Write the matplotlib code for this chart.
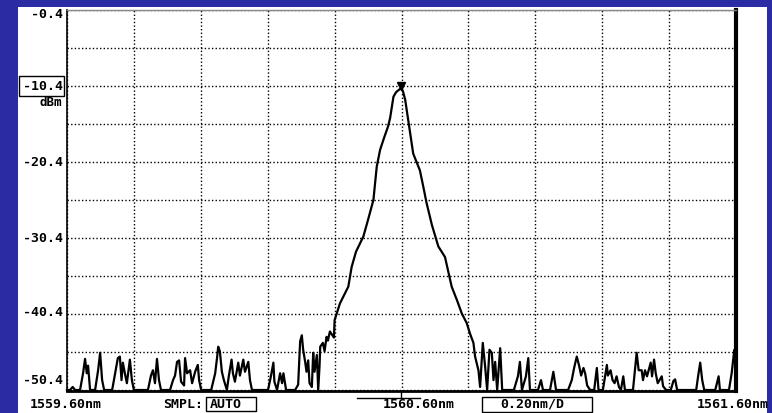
import numpy as np
import matplotlib
matplotlib.use("Agg")
import matplotlib.pyplot as plt
from matplotlib.patches import Rectangle

W, H = 772, 413
BLUE = "#2b2ba3"

# spectrum trace (nm, dBm)
wavelength = [
    1559.600, 1559.609, 1559.617, 1559.624, 1559.639, 1559.648, 1559.654, 1559.659, 1559.663, 1559.669,
    1559.684, 1559.693, 1559.699, 1559.705, 1559.711, 1559.735, 1559.744, 1559.752, 1559.758, 1559.763,
    1559.767, 1559.773, 1559.779, 1559.788, 1559.794, 1559.800, 1559.842, 1559.851, 1559.857, 1559.863,
    1559.869, 1559.875, 1559.881, 1559.908, 1559.917, 1559.923, 1559.929, 1559.935, 1559.941, 1559.950,
    1559.953, 1559.959, 1559.968, 1559.974, 1559.983, 1559.991, 1559.995, 1560.001, 1560.031, 1560.043,
    1560.049, 1560.052, 1560.057, 1560.063, 1560.069, 1560.078, 1560.084, 1560.092, 1560.096, 1560.102,
    1560.112, 1560.117, 1560.127, 1560.132, 1560.142, 1560.147, 1560.153, 1560.201, 1560.210, 1560.217,
    1560.220, 1560.228, 1560.237, 1560.243, 1560.247, 1560.255, 1560.282, 1560.291, 1560.297, 1560.302,
    1560.306, 1560.312, 1560.316, 1560.321, 1560.325, 1560.332, 1560.336, 1560.340, 1560.347, 1560.351,
    1560.355, 1560.357, 1560.365, 1560.370, 1560.376, 1560.380, 1560.386, 1560.392, 1560.398, 1560.400,
    1560.408, 1560.416, 1560.441, 1560.451, 1560.464, 1560.486, 1560.500, 1560.516, 1560.526, 1560.536,
    1560.548, 1560.560, 1560.566, 1560.576, 1560.584, 1560.598, 1560.600, 1560.605, 1560.611, 1560.620,
    1560.626, 1560.635, 1560.655, 1560.664, 1560.675, 1560.691, 1560.710, 1560.730, 1560.750, 1560.766,
    1560.780, 1560.787, 1560.795, 1560.805, 1560.815, 1560.820, 1560.830, 1560.835, 1560.843, 1560.850,
    1560.856, 1560.863, 1560.870, 1560.875, 1560.880, 1560.886, 1560.895, 1560.901, 1560.936, 1560.948,
    1560.954, 1560.960, 1560.972, 1560.979, 1560.984, 1561.008, 1561.017, 1561.023, 1561.044, 1561.054,
    1561.062, 1561.098, 1561.109, 1561.116, 1561.124, 1561.131, 1561.137, 1561.144, 1561.149, 1561.155,
    1561.164, 1561.176, 1561.184, 1561.189, 1561.202, 1561.214, 1561.217, 1561.225, 1561.231, 1561.237,
    1561.243, 1561.250, 1561.256, 1561.263, 1561.268, 1561.292, 1561.303, 1561.309, 1561.318, 1561.322,
    1561.328, 1561.334, 1561.345, 1561.349, 1561.355, 1561.360, 1561.366, 1561.378, 1561.382, 1561.391,
    1561.405, 1561.413, 1561.418, 1561.424, 1561.481, 1561.487, 1561.493, 1561.499, 1561.505, 1561.538,
    1561.548, 1561.552, 1561.579, 1561.587, 1561.595, 1561.600,
]
level = [
    -50.4, -50.4, -50.0, -50.4, -50.4, -48.2, -46.3, -48.2, -47.2, -50.4,
    -50.4, -47.8, -45.5, -49.1, -50.4, -50.4, -48.2, -46.2, -46.0, -49.1,
    -46.8, -48.2, -49.5, -46.4, -49.1, -50.4, -50.4, -48.5, -47.8, -49.5,
    -46.3, -49.1, -50.4, -50.4, -49.1, -48.5, -46.7, -46.5, -49.3, -49.8,
    -46.2, -48.2, -47.8, -49.5, -48.0, -47.1, -49.1, -50.4, -50.4, -48.2,
    -46.0, -44.7, -45.3, -48.0, -49.1, -50.4, -48.5, -46.4, -48.2, -49.3,
    -46.8, -48.5, -46.4, -48.0, -46.7, -49.1, -50.4, -50.4, -48.5, -46.8,
    -49.3, -50.4, -48.2, -49.5, -48.2, -50.4, -50.4, -49.7, -44.0, -43.2,
    -45.1, -46.7, -48.0, -46.5, -49.5, -50.0, -45.5, -48.0, -45.8, -50.4,
    -47.2, -44.7, -44.2, -45.3, -43.4, -43.9, -42.7, -43.1, -43.5, -41.2,
    -40.1, -39.0, -36.8, -34.2, -32.2, -30.2, -28.0, -25.4, -21.0, -18.8,
    -17.2, -15.7, -14.6, -11.8, -11.2, -10.7, -10.6, -11.2, -12.2, -14.9,
    -16.8, -19.3, -21.5, -23.4, -25.8, -28.7, -31.5, -32.9, -36.8, -38.6,
    -40.3, -40.9, -41.6, -43.0, -44.2, -46.0, -47.8, -50.0, -44.2, -47.3,
    -50.4, -45.1, -45.5, -49.1, -46.7, -50.4, -44.9, -50.4, -50.4, -48.6,
    -46.7, -50.4, -48.6, -46.2, -50.4, -50.4, -49.1, -50.4, -50.4, -48.0,
    -50.4, -50.4, -49.1, -47.5, -46.0, -47.2, -48.5, -47.5, -48.2, -49.8,
    -50.4, -50.4, -47.5, -50.4, -50.4, -47.1, -48.5, -47.8, -49.1, -49.5,
    -48.6, -50.0, -50.4, -48.6, -50.4, -50.4, -45.5, -47.8, -47.8, -49.1,
    -47.8, -48.6, -46.8, -48.6, -46.4, -48.2, -49.5, -48.6, -49.9, -50.4,
    -50.4, -49.2, -49.0, -50.4, -50.4, -48.5, -46.8, -49.1, -50.4, -50.4,
    -48.6, -50.4, -50.4, -48.2, -45.1, -45.5,
]

x_ticks = np.arange(1559.6, 1561.61, 0.2)
y_ticks = np.arange(-50.4, -0.39, 5.0)
y_labels = ["-0.4", "-10.4", "-20.4", "-30.4", "-40.4", "-50.4"]
y_label_vals = [-0.4, -10.4, -20.4, -30.4, -40.4, -50.4]
peak_wl, peak_lvl = 1560.60, -10.4


def fx(x):
    return x / W


def fy(y):
    return 1 - y / H


fig = plt.figure(figsize=(W / 100, H / 100), dpi=100)
fig.patch.set_facecolor(BLUE)
# white screen area
fig.patches.append(Rectangle((fx(18), 0), fx(767) - fx(18), fy(7), transform=fig.transFigure,
                             facecolor="white", edgecolor="none", zorder=-5))

ax = fig.add_axes([fx(67), fy(391), fx(736) - fx(67), fy(10) - fy(391)])
ax.set_zorder(3)
ax.set_facecolor("white")
ax.set_xlim(1559.6, 1561.6)
ax.set_ylim(-50.53, -0.4)
ax.set_xticks(x_ticks)
ax.set_yticks(y_ticks)
ax.tick_params(length=0, labelbottom=False, labelleft=False)
ax.grid(True, color="black", linestyle=(0, (1.0, 1.6)), linewidth=1.0)
ax.set_axisbelow(True)

for side in ax.spines:
    ax.spines[side].set_color("black")
ax.spines["left"].set_linewidth(1.2)
ax.spines["top"].set_color("#888888")
ax.spines["top"].set_linewidth(1.0)
ax.spines["right"].set_linewidth(3.0)
ax.spines["bottom"].set_linewidth(2.0)

ax.plot(wavelength, level, color="black", linewidth=1.6, zorder=3, clip_on=False)
ax.plot([peak_wl], [peak_lvl], marker="v", color="black", markersize=6, zorder=4)

font = dict(family="DejaVu Sans Mono", fontweight="bold", fontsize=9.5, color="black")

# y labels
y_pix = {-0.4: 14, -10.4: 86, -20.4: 162, -30.4: 238, -40.4: 313, -50.4: 380}
for lab, val in zip(y_labels, y_label_vals):
    fig.text(fx(63), fy(y_pix[val]), lab, ha="right", va="center", **font)
fig.patches.append(Rectangle((fx(19), fy(96)), fx(64) - fx(19), fy(76) - fy(96), transform=fig.transFigure,
                             facecolor="none", edgecolor="black", linewidth=1.0))
fig.text(fx(62), fy(103), "dBm", ha="right", va="center", fontsize=9, fontweight="bold",
         family="DejaVu Sans Mono")

# bottom annotations
fig.text(fx(30), fy(404), "1559.60nm", ha="left", va="center", **font)
fig.text(fx(163), fy(404), "SMPL:", ha="left", va="center", **font)
fig.patches.append(Rectangle((fx(206), fy(411)), fx(256) - fx(206), fy(397) - fy(411), transform=fig.transFigure,
                             facecolor="none", edgecolor="black", linewidth=1.0))
fig.text(fx(210), fy(404), "AUTO", ha="left", va="center", **font)
fig.text(fx(383), fy(404), "1560.60nm", ha="left", va="center", **font)
fig.lines.append(plt.Line2D([fx(357), fx(420)], [fy(398), fy(398)], transform=fig.transFigure,
                            color="black", linewidth=1.0))
fig.lines.append(plt.Line2D([fx(401), fx(401)], [fy(392), fy(398)], transform=fig.transFigure,
                            color="black", linewidth=1.0))
fig.patches.append(Rectangle((fx(482), fy(412)), fx(592) - fx(482), fy(397) - fy(412), transform=fig.transFigure,
                             facecolor="none", edgecolor="black", linewidth=1.0))
fig.text(fx(500), fy(404), "0.20nm/D", ha="left", va="center", **font)
fig.text(fx(697), fy(404), "1561.60nm", ha="left", va="center", **font)

fig.savefig("out.png", dpi=100, facecolor=fig.get_facecolor())
